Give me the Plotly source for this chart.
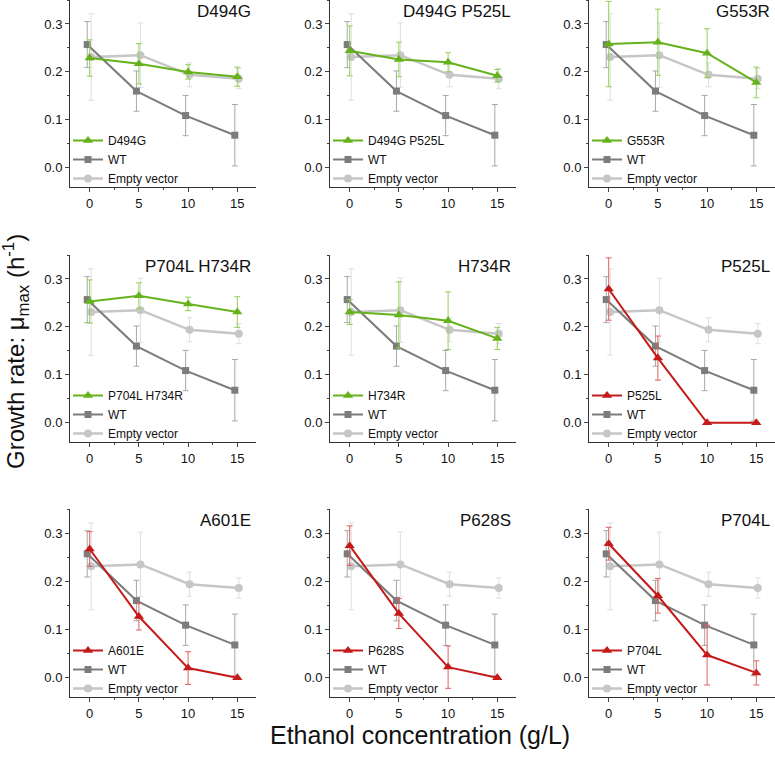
import plotly.graph_objects as go
from plotly.subplots import make_subplots

# ethanol concentrations (g/L)
conc = [0, 5, 10, 15]

# controls (same in every panel)
wt_mean = [0.257, 0.160, 0.109, 0.068]
wt_err = [0.048, 0.042, 0.042, 0.064]
empty_mean = [0.231, 0.235, 0.194, 0.186]
empty_err = [0.090, 0.067, 0.025, 0.021]

# mutants
mutant_names = ["D494G", "D494G P525L", "G553R",
                "P704L H734R", "H734R", "P525L",
                "A601E", "P628S", "P704L"]

d494g_mean = [0.229, 0.217, 0.200, 0.190]
d494g_err = [0.038, 0.042, 0.015, 0.020]
d494g_p525l_mean = [0.244, 0.226, 0.220, 0.192]
d494g_p525l_err = [0.052, 0.036, 0.020, 0.013]
g553r_mean = [0.258, 0.262, 0.239, 0.178]
g553r_err = [0.089, 0.069, 0.051, 0.032]
p704l_h734r_mean = [0.253, 0.265, 0.248, 0.231]
p704l_h734r_err = [0.045, 0.027, 0.014, 0.032]
h734r_mean = [0.231, 0.225, 0.213, 0.176]
h734r_err = [0.026, 0.069, 0.060, 0.023]
p525l_mean = [0.279, 0.135, 0.0, 0.0]
p525l_err = [0.065, 0.046, 0.0, 0.0]
a601e_mean = [0.267, 0.127, 0.020, 0.0]
a601e_err = [0.036, 0.028, 0.034, 0.0]
p628s_mean = [0.274, 0.133, 0.022, 0.0]
p628s_err = [0.041, 0.031, 0.044, 0.0]
p704l_mean = [0.278, 0.170, 0.047, 0.010]
p704l_err = [0.034, 0.036, 0.062, 0.025]

mutant_means = [d494g_mean, d494g_p525l_mean, g553r_mean,
                p704l_h734r_mean, h734r_mean, p525l_mean,
                a601e_mean, p628s_mean, p704l_mean]
mutant_errs = [d494g_err, d494g_p525l_err, g553r_err,
               p704l_h734r_err, h734r_err, p525l_err,
               a601e_err, p628s_err, p704l_err]
# tolerant mutants are green, sensitive ones red
mutant_kind = ["tol"] * 5 + ["sens"] * 4

GREEN = "#66b21c"
GREEN_ERR = "#93cf55"
RED = "#c41a1a"
RED_ERR = "#e06060"
WT_COL = "#7c7c7c"
WT_ERR_COL = "#a8a8a8"
EV_COL = "#c6c6c6"
EV_ERR_COL = "#dedede"

# small horizontal dodge for the control series
WT_SHIFT = -0.25
EV_SHIFT = 0.15

W, H = 775, 759
col_px = [(70, 256), (330, 516), (589, 775)]
row_px = [(0, 187), (255, 442), (509, 697)]

fig = make_subplots(rows=3, cols=3)

annotations = []
for i, name in enumerate(mutant_names):
    r, c = i // 3, i % 3
    suffix = "" if i == 0 else str(i + 1)
    legend_id = "legend" if i == 0 else f"legend{i + 1}"
    if mutant_kind[i] == "tol":
        col, ecol = GREEN, GREEN_ERR
    else:
        col, ecol = RED, RED_ERR

    fig.add_trace(go.Scatter(
        x=[v + EV_SHIFT for v in conc], y=empty_mean, name="Empty vector",
        mode="lines+markers",
        line=dict(color=EV_COL, width=2.5),
        marker=dict(symbol="circle", size=8, color=EV_COL),
        error_y=dict(type="data", array=empty_err, color=EV_ERR_COL, thickness=1, width=3),
        legend=legend_id,
    ), row=r + 1, col=c + 1)
    fig.add_trace(go.Scatter(
        x=[v + WT_SHIFT for v in conc], y=wt_mean, name="WT",
        mode="lines+markers",
        line=dict(color=WT_COL, width=2),
        marker=dict(symbol="square", size=7, color=WT_COL),
        error_y=dict(type="data", array=wt_err, color=WT_ERR_COL, thickness=1, width=3),
        legend=legend_id,
    ), row=r + 1, col=c + 1)
    fig.add_trace(go.Scatter(
        x=conc, y=mutant_means[i], name=name,
        mode="lines+markers",
        line=dict(color=col, width=2),
        marker=dict(symbol="triangle-up", size=9, color=col),
        error_y=dict(type="data", array=mutant_errs[i], color=ecol, thickness=1, width=3),
        legend=legend_id,
    ), row=r + 1, col=c + 1)

    x0, x1 = col_px[c]
    y0, y1 = row_px[r]
    fig.update_layout({
        f"xaxis{suffix}": dict(
            domain=[x0 / W, x1 / W], range=[-2.0, 16.9],
            tickvals=conc, ticks="outside", ticklen=4,
            showline=True, linecolor="#333333", linewidth=1,
            showgrid=False, zeroline=False,
            tickfont=dict(size=13, color="#111111"),
            minor=dict(ticks="outside", ticklen=2, dtick=2.5, tick0=0, showgrid=False),
        ),
        f"yaxis{suffix}": dict(
            domain=[1 - y1 / H, 1 - y0 / H], range=[-0.04, 0.35],
            tickvals=[0, 0.1, 0.2, 0.3], tickformat=".1f",
            ticks="outside", ticklen=4,
            showline=True, linecolor="#333333", linewidth=1,
            showgrid=False, zeroline=False,
            tickfont=dict(size=13, color="#111111"),
            minor=dict(ticks="outside", ticklen=2, dtick=0.05, tick0=0, showgrid=False),
        ),
        legend_id: dict(
            x=(x0 - 2) / W, y=1 - (y1 + 6) / H,
            xanchor="left", yanchor="bottom",
            bgcolor="rgba(0,0,0,0)", borderwidth=0,
            traceorder="reversed",
            font=dict(size=12, color="#111111"),
            tracegroupgap=0,
        ),
    })
    annotations.append(dict(
        text=name, xref=f"x{suffix} domain", yref=f"y{suffix} domain",
        x=0.985, y=1.0, xanchor="right", yanchor="top", showarrow=False,
        font=dict(size=17, color="#111111"),
    ))

annotations.append(dict(
    text="Growth rate: μ<sub>max</sub> (h<sup>-1</sup>)",
    xref="paper", yref="paper", x=16 / W, y=1 - 352 / H,
    xanchor="center", yanchor="middle", textangle=-90, showarrow=False,
    font=dict(size=24, color="#111111"),
))
annotations.append(dict(
    text="Ethanol concentration (g/L)",
    xref="paper", yref="paper", x=420 / W, y=1 - 735 / H,
    xanchor="center", yanchor="middle", showarrow=False,
    font=dict(size=25, color="#111111"),
))

fig.update_layout(
    width=W, height=H,
    margin=dict(l=0, r=0, t=0, b=0),
    paper_bgcolor="white", plot_bgcolor="white",
    font=dict(family="Liberation Sans, Arial, sans-serif"),
    annotations=annotations,
    showlegend=True,
)

# drop the default page margin so the figure sits flush in the window
fig.write_html(
    "out.html",
    config={"displayModeBar": False},
    post_script="document.body.style.margin='0';document.body.style.overflow='hidden';",
)
